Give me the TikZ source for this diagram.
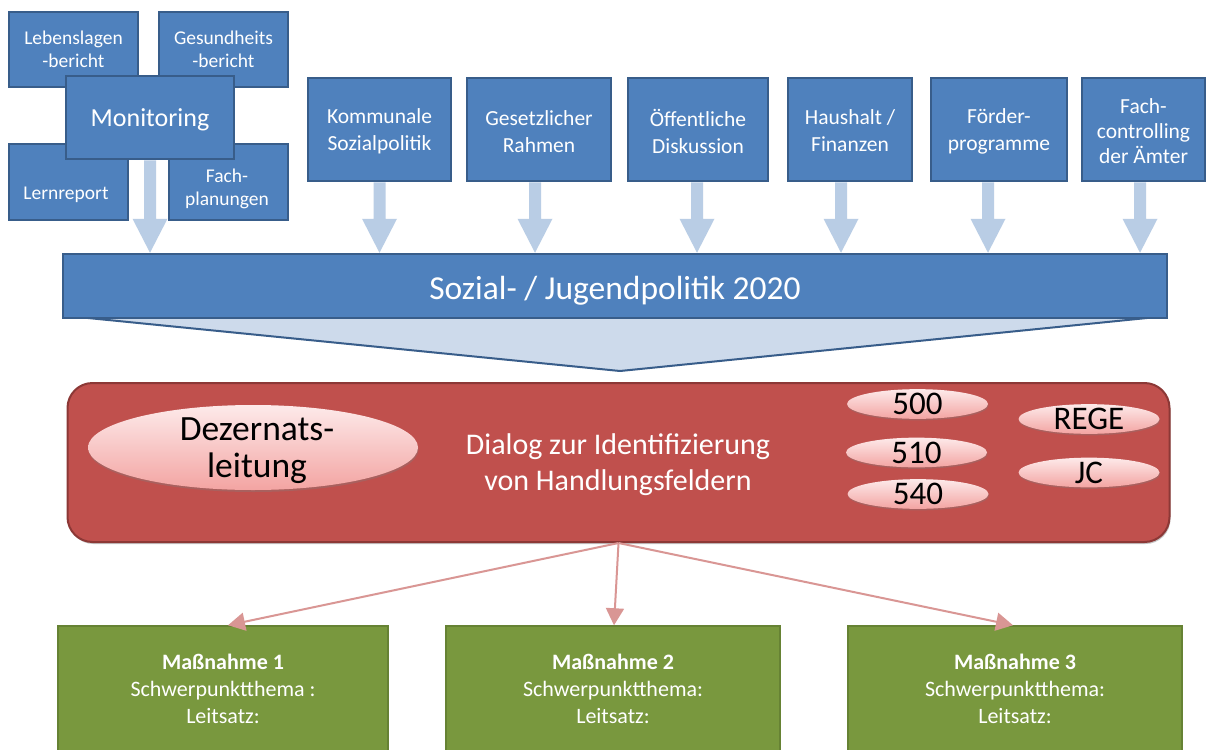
\documentclass[tikz,border=0pt]{standalone}
\usepackage{fontspec}
\setmainfont{Carlito}
\usetikzlibrary{arrows.meta,calc,shapes.geometric,shadows}

\definecolor{boxblue}{RGB}{79,129,189}
\definecolor{boxedge}{RGB}{56,93,138}
\definecolor{lightarrow}{RGB}{185,205,229}
\definecolor{funnelfill}{RGB}{205,218,235}
\definecolor{dlgred}{RGB}{192,80,77}
\definecolor{dlgedge}{RGB}{140,56,54}
\definecolor{pilltop}{RGB}{253,234,234}
\definecolor{pillbot}{RGB}{243,164,162}
\definecolor{mgreen}{RGB}{121,152,62}
\definecolor{mgreenedge}{RGB}{102,130,52}
\definecolor{linkpink}{RGB}{217,150,148}

\tikzset{
  bluebox/.style={draw=boxedge, line width=2.5pt, fill=boxblue, inner sep=0pt, text=white, align=center},
  smalltext/.style={text=white, align=center, inner sep=0pt, font=\fontsize{19.5}{23}\selectfont},
  toptext/.style={font=\fontsize{21.5}{27}\selectfont},
  pill/.style={ellipse, inner sep=0pt, top color=pilltop, bottom color=pillbot,
    drop shadow={shadow xshift=0.5pt, shadow yshift=-1.5pt, opacity=0.35},
    font=\fontsize{33}{36}\selectfont, text height=21pt, text depth=0pt,
    minimum width=141, minimum height=28},
  greenbox/.style={draw=mgreenedge, line width=1.5pt, fill=mgreen, text=white, align=center,
    minimum width=330, minimum height=126, inner sep=0pt, font=\fontsize{22}{27}\selectfont},
  link/.style={draw=linkpink, line width=2pt, -{Triangle[width=18pt,length=17pt]}},
}

% broad light-blue arrow from #1 down to the tip #2
\newcommand\fatarrow[2]{%
  \fill[lightarrow] ($(#1)+(-6,0)$) -- ($(#2)+(-6,-34)$) -- ($(#2)+(-17.5,-34)$) -- (#2)
    -- ($(#2)+(17.5,-34)$) -- ($(#2)+(6,-34)$) -- ($(#1)+(6,0)$) -- cycle;}

\begin{document}
\begin{tikzpicture}[x=1pt, y=-1pt]
\useasboundingbox (0,0) rectangle (1206,749);
\clip (0,0) rectangle (1206,749);
\fill[white] (0,0) rectangle (1206,749);

% monitoring cluster
\node[bluebox, minimum width=129, minimum height=75] (leb) at (73.5,49.5) {};
\node[smalltext] (lebt) at (73.5,49.5) {Lebenslagen\\-bericht};
\node[bluebox, minimum width=129, minimum height=75] (ges) at (223.5,49.5) {};
\node[smalltext] (gest) at (223.5,49.5) {Gesundheits\\-bericht};
\node[bluebox, minimum width=119, minimum height=76] (lern) at (68.5,182) {};
\node[smalltext] (lernt) at (66,194.5) {Lernreport};
\node[bluebox, minimum width=119, minimum height=76] (fach) at (228.5,182) {};
\node[smalltext] (facht) at (227,189) {Fach-\\planungen};
\node[bluebox, minimum width=168, minimum height=83, font=\fontsize{26}{30}\selectfont,
  text height=21pt, text depth=3pt] (mon) at (150,117.5) {Monitoring};

% input boxes
\node[bluebox, toptext, minimum width=143, minimum height=103] (kom) at (379.5,129.5) {};
\node[bluebox, toptext, minimum width=144, minimum height=103] (gesetz) at (539,129.5) {};
\node[bluebox, toptext, minimum width=140, minimum height=103] (oeff) at (698,129.5) {};
\node[bluebox, toptext, minimum width=124, minimum height=103] (haus) at (850,129.5) {};
\node[bluebox, toptext, minimum width=136, minimum height=103] (foerd) at (999,129.5) {};
\node[bluebox, minimum width=123, minimum height=103] (fcon) at (1143.5,129.5) {};
\node[smalltext, toptext] (komt) at (379.5,131) {Kommunale\\Sozialpolitik};
\node[smalltext, toptext] (gesetzt) at (539,131.5) {Gesetzlicher\\Rahmen};
\node[smalltext, toptext] (oefft) at (698,131.5) {Öffentliche\\Diskussion};
\node[smalltext, toptext] (haust) at (850,131) {Haushalt /\\Finanzen};
\node[smalltext, toptext] (foerdt) at (999,131) {Förder-\\programme};
\node[smalltext, font=\fontsize{21.5}{25}\selectfont] (fcont) at (1143.5,131) {Fach-\\controlling\\der Ämter};

% funnel below the bar
\coordinate (fl) at (88,318);
\coordinate (fr) at (1147,318);
\coordinate (ft) at (620,371);
\fill[funnelfill] (fl) -- (fr) -- (ft) -- cycle;
\draw[boxedge, line width=2pt, line join=round] (fl) -- (ft) -- (fr);

% central bar
\node[bluebox, minimum width=1104, minimum height=64, font=\fontsize{33.5}{38}\selectfont,
  text height=30pt, text depth=4pt] (bar) at (615,286) {Sozial- / Jugendpolitik 2020};

% light arrows into the bar
\coordinate (monA) at (mon.south);
\coordinate (monB) at (monA |- bar.north);
\coordinate (komA) at (kom.south);
\coordinate (komB) at (komA |- bar.north);
\coordinate (gesetzA) at ([xshift=-4pt]gesetz.south);
\coordinate (gesetzB) at (gesetzA |- bar.north);
\coordinate (oeffA) at ([xshift=-1pt]oeff.south);
\coordinate (oeffB) at (oeffA |- bar.north);
\coordinate (hausA) at ([xshift=-9pt]haus.south);
\coordinate (hausB) at (hausA |- bar.north);
\coordinate (foerdA) at ([xshift=-11pt]foerd.south);
\coordinate (foerdB) at (foerdA |- bar.north);
\coordinate (fconA) at ([xshift=-3.5pt]fcon.south);
\coordinate (fconB) at (fconA |- bar.north);
\fatarrow{monA}{monB}
\fatarrow{komA}{komB}
\fatarrow{gesetzA}{gesetzB}
\fatarrow{oeffA}{oeffB}
\fatarrow{hausA}{hausB}
\fatarrow{foerdA}{foerdB}
\fatarrow{fconA}{fconB}

% dialog panel
\node[draw=dlgedge, line width=2pt, fill=dlgred, rounded corners=25pt,
  drop shadow={shadow xshift=1pt, shadow yshift=-2pt, opacity=0.45},
  minimum width=1102, minimum height=159] (dialog) at (618.5,462.5) {};
\node[text=white, align=center, inner sep=0pt, font=\fontsize{30}{36}\selectfont]
  (dialogt) at (618,465) {Dialog zur Identifizierung\\von Handlungsfeldern};

\node[ellipse, inner sep=0pt, top color=pilltop, bottom color=pillbot,
  drop shadow={shadow xshift=0.5pt, shadow yshift=-2pt, opacity=0.35},
  minimum width=330, minimum height=85] (dez) at (253,447.5) {};
\node[align=center, inner sep=0pt, font=\fontsize{35.5}{37}\selectfont] (dezt) at (257,451) {Dezernats-\\leitung};

\node[pill] (p500) at (917.5,404) {500};
\node[pill] (p510) at (916.5,452.5) {510};
\node[pill] (p540) at (918,494) {540};
\node[pill] (rege) at (1089,419) {REGE};
\node[pill] (jc) at (1089,472.5) {JC};

% measures
\node[greenbox] (m1) at (223,689) {\textbf{Maßnahme 1}\\Schwerpunktthema :\\Leitsatz:};
\node[greenbox, minimum width=334] (m2) at (613,689) {\textbf{Maßnahme 2}\\Schwerpunktthema:\\Leitsatz:};
\node[greenbox, minimum width=334] (m3) at (1015,689) {\textbf{Maßnahme 3}\\Schwerpunktthema:\\Leitsatz:};

\draw[link] (dialog.south) -- ([xshift=5pt]m1.north);
\draw[link] (dialog.south) -- ([xshift=1pt]m2.north);
\draw[link] (dialog.south) -- ([xshift=-2pt]m3.north);
\end{tikzpicture}
\end{document}
